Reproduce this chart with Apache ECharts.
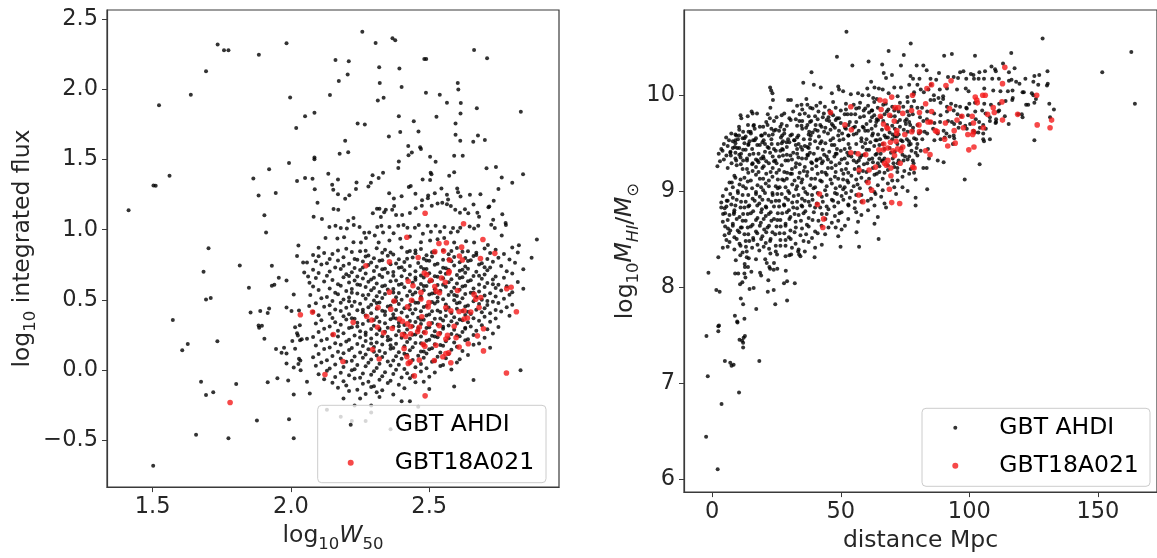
<!DOCTYPE html>
<html><head><meta charset="utf-8">
<script src="https://cdn.jsdelivr.net/npm/echarts@6/dist/echarts.min.js"></script>
<style>html,body{margin:0;padding:0;background:#fff}#c{width:1157px;height:558px}</style>
</head><body><div id="c"></div>
<script>
const seriesNames = ['GBT AHDI', 'GBT18A021'];
const leftXTicks = [1.5, 2.0, 2.5];
const leftYTicks = [-0.5, 0.0, 0.5, 1.0, 1.5, 2.0, 2.5];
const rightXTicks = [0, 50, 100, 150];
const rightYTicks = [6, 7, 8, 9, 10];

// Left panel: log10 W50 vs log10 integrated flux
const leftAhdi = [
[1.735,2.318],[1.758,2.276],[1.774,2.276],[1.884,2.245],[1.984,2.327],[1.693,2.128],[1.638,1.960],[1.523,1.885],[1.997,1.941],[2.051,1.808],[2.019,1.724],[1.993,1.474],[1.921,1.430],[1.561,1.383],[1.503,1.315],[1.511,1.313],[1.864,1.364],[2.022,1.346],[2.051,1.367],[1.883,1.243],[1.945,1.262],[1.413,1.138],[1.904,1.103],[1.910,0.981],[2.027,0.888],[1.702,0.869],
[1.815,0.746],[1.931,0.743],[1.684,0.701],[2.022,0.813],[2.044,0.767],[2.058,0.767],[2.048,0.696],[2.062,0.668],[1.956,0.659],[1.984,0.638],[1.931,0.601],[1.940,0.608],[1.848,0.587],[2.067,0.622],[1.693,0.503],[1.710,0.514],[2.010,0.540],[1.854,0.411],[1.889,0.421],[1.916,0.407],[1.921,0.439],[1.984,0.446],[2.002,0.421],[2.029,0.425],[2.066,0.458],[1.573,0.358],[1.883,0.318],[1.895,0.316],[1.885,0.302],[2.015,0.306],[2.032,0.320],[2.022,0.264],[2.025,0.248],[2.033,0.213],[2.039,0.220],[2.058,0.224],[2.005,0.208],[1.904,0.224],[1.734,0.206],[1.627,0.187],[1.607,0.143],[1.946,0.152],[1.966,0.124],[1.975,0.161],[1.984,0.119],[2.015,0.154],[2.029,0.082],[2.034,0.070],[1.984,0.049],[2.010,0.019],[2.027,0.045],[2.035,0.000],[1.675,-0.082],[1.802,-0.098],[1.719,-0.156],[1.693,-0.175],[1.916,-0.086],[1.951,-0.056],[1.990,-0.072],[2.058,-0.082],[2.010,-0.173],[2.068,-0.166],[1.877,-0.357],[1.993,-0.348],[1.657,-0.458],[1.774,-0.483],[2.010,-0.483],[1.502,-0.680],
[2.258,2.409],[2.306,2.329],[2.367,2.362],[2.377,2.348],[2.662,2.278],[2.709,2.220],[2.161,2.208],[2.209,2.199],[2.482,2.215],[2.489,2.215],[2.319,2.156],[2.392,2.147],[2.205,2.105],[2.173,2.058],[2.321,2.044],[2.400,2.016],[2.603,2.044],[2.605,1.998],[2.141,1.958],[2.488,1.974],[2.538,1.960],[2.314,1.920],[2.335,1.939],[2.564,1.904],[2.614,1.902],[2.672,1.864],[2.085,1.832],[2.390,1.808],[2.526,1.804],[2.613,1.827],[2.831,1.839],[2.241,1.755],[2.267,1.748],[2.444,1.771],[2.595,1.755],[2.196,1.633],[2.354,1.663],[2.395,1.696],[2.461,1.699],[2.595,1.675],[2.612,1.633],[2.659,1.626],[2.676,1.670],[2.701,1.638],[2.176,1.540],[2.207,1.551],[2.424,1.596],[2.467,1.586],[2.470,1.575],[2.425,1.530],[2.437,1.549],[2.503,1.519],[2.523,1.484],[2.590,1.526],[2.621,1.526],[2.085,1.514],[2.085,1.502],[2.390,1.486],[2.388,1.439],[2.707,1.437],[2.741,1.446],[2.135,1.399],[2.333,1.406],[2.505,1.406],[2.508,1.395],[2.572,1.383],[2.590,1.409],[2.762,1.371],[2.800,1.334],[2.078,1.362],[2.170,1.357],[2.317,1.367],[2.295,1.388],[2.237,1.336],[2.235,1.290],[2.280,1.308],[2.289,1.334],[2.086,1.287],[2.149,1.320],[2.153,1.285],[2.426,1.304],[2.433,1.311],[2.476,1.357],[2.503,1.353],[2.750,1.290],[2.601,1.294],[2.170,1.252],[2.196,1.220],[2.211,1.245],[2.096,1.192],[2.355,1.259],[2.372,1.222],[2.400,1.238],[2.450,1.255],[2.474,1.210],[2.495,1.224],[2.520,1.259],[2.544,1.294],[2.564,1.248],[2.568,1.215],[2.604,1.266],[2.613,1.236],[2.647,1.248],[2.685,1.252],[2.714,1.159],[2.733,1.206],[2.154,1.147],[2.171,1.142],[2.311,1.149],[2.320,1.149],[2.082,1.093],[2.112,1.077],[2.226,1.084],[2.207,1.063],[2.296,1.117],[2.325,1.091],[2.337,1.124],[2.343,1.142],[2.366,1.142],[2.373,1.168],[2.380,1.105],[2.402,1.105],[2.430,1.119],[2.451,1.152],[2.473,1.170],[2.496,1.243],[2.509,1.170],[2.530,1.187],[2.547,1.192],[2.564,1.182],[2.578,1.168],[2.594,1.142],[2.611,1.121],[2.629,1.145],[2.641,1.117],[2.660,1.180],[2.674,1.121],[2.680,1.093],[2.717,1.166],[2.731,1.070],[2.764,1.110],[2.776,1.047],
[2.139,1.019],[2.161,1.028],[2.180,1.012],[2.202,1.009],[2.227,1.033],[2.248,1.019],[2.265,0.979],[2.283,0.981],[2.312,1.019],[2.327,1.028],[2.333,0.981],[2.356,1.019],[2.371,0.974],[2.388,1.028],[2.407,1.033],[2.421,1.014],[2.448,1.014],[2.462,1.033],[2.477,0.972],[2.494,1.028],[2.506,0.986],[2.523,1.028],[2.539,0.986],[2.555,1.019],[2.578,0.981],[2.586,1.012],[2.603,0.988],[2.612,1.014],[2.646,1.023],[2.662,1.009],[2.677,1.028],[2.724,1.035],[2.737,1.012],[2.777,1.033],
[2.125,0.941],[2.168,0.937],[2.192,0.946],[2.226,0.911],[2.253,0.909],[2.271,0.941],[2.303,0.958],[2.317,0.909],[2.356,0.923],[2.395,0.935],[2.430,0.951],[2.470,0.911],[2.503,0.923],[2.530,0.932],[2.554,0.941],[2.590,0.909],[2.633,0.918],[2.662,0.909],[2.712,0.892],[2.762,0.958],[2.824,0.890],
[2.889,0.930],[2.839,1.395],[2.870,0.800],[2.840,0.580],
[2.10,0.872],[2.17,0.852],[2.20,0.864],[2.25,0.847],[2.31,0.869],[2.34,0.857],[2.40,0.874],[2.43,0.849],[2.47,0.862],[2.55,0.854],[2.60,0.870],[2.64,0.846],[2.70,0.866],[2.74,0.858],[2.80,0.873],
[2.08,0.821],[2.12,0.834],[2.15,0.828],[2.22,0.842],[2.28,0.817],[2.33,0.836],[2.37,0.824],[2.42,0.841],[2.45,0.832],[2.49,0.819],[2.52,0.839],[2.57,0.826],[2.62,0.843],[2.67,0.821],[2.72,0.835],[2.77,0.827],[2.82,0.838],
[2.10,0.812],[2.14,0.792],[2.19,0.804],[2.24,0.787],[2.27,0.809],[2.30,0.797],[2.35,0.814],[2.39,0.789],[2.44,0.802],[2.48,0.794],[2.51,0.810],[2.55,0.786],[2.59,0.806],[2.63,0.798],[2.66,0.813],[2.71,0.791],[2.75,0.801],[2.79,0.788],
[2.09,0.776],[2.13,0.762],[2.17,0.781],[2.21,0.758],[2.26,0.773],[2.29,0.766],[2.33,0.783],[2.38,0.759],[2.41,0.771],[2.46,0.764],[2.50,0.780],[2.53,0.757],[2.58,0.775],[2.61,0.768],[2.65,0.782],[2.69,0.761],[2.73,0.772],[2.81,0.765],
[2.11,0.752],[2.16,0.732],[2.19,0.744],[2.23,0.727],[2.28,0.749],[2.31,0.737],[2.36,0.754],[2.39,0.729],[2.43,0.742],[2.47,0.734],[2.52,0.750],[2.56,0.726],[2.59,0.746],[2.63,0.738],[2.68,0.753],[2.72,0.731],[2.76,0.741],
[2.08,0.716],[2.14,0.702],[2.18,0.721],[2.22,0.698],[2.25,0.713],[2.30,0.706],[2.34,0.723],[2.37,0.699],[2.41,0.711],[2.45,0.704],[2.49,0.720],[2.54,0.697],[2.57,0.715],[2.61,0.708],[2.64,0.722],[2.67,0.701],[2.71,0.712],[2.78,0.705],[2.84,0.718],
[2.10,0.692],[2.13,0.672],[2.20,0.684],[2.24,0.667],[2.27,0.689],[2.32,0.677],[2.35,0.694],[2.40,0.669],[2.43,0.682],[2.47,0.674],[2.50,0.690],[2.53,0.666],[2.56,0.686],[2.60,0.678],[2.63,0.693],[2.66,0.671],[2.70,0.681],[2.74,0.668],[2.80,0.688],
[2.09,0.656],[2.15,0.642],[2.19,0.661],[2.23,0.638],[2.26,0.653],[2.29,0.646],[2.33,0.663],[2.38,0.639],[2.42,0.651],[2.45,0.644],[2.48,0.660],[2.51,0.637],[2.55,0.655],[2.58,0.648],[2.62,0.662],[2.65,0.641],[2.69,0.652],[2.73,0.645],[2.77,0.658],
[2.12,0.632],[2.17,0.612],[2.21,0.624],[2.25,0.607],[2.28,0.629],[2.31,0.617],[2.36,0.634],[2.39,0.609],[2.44,0.622],[2.47,0.614],[2.50,0.630],[2.53,0.606],[2.57,0.626],[2.60,0.618],[2.64,0.633],[2.68,0.611],[2.71,0.621],[2.75,0.608],[2.82,0.628],
[2.08,0.596],[2.14,0.582],[2.18,0.601],[2.22,0.578],[2.27,0.593],[2.30,0.586],[2.34,0.603],[2.37,0.579],[2.41,0.591],[2.46,0.584],[2.49,0.600],[2.52,0.577],[2.56,0.595],[2.59,0.588],[2.63,0.602],[2.66,0.581],[2.70,0.592],[2.74,0.585],[2.78,0.598],
[2.10,0.572],[2.16,0.552],[2.20,0.564],[2.24,0.547],[2.29,0.569],[2.32,0.557],[2.35,0.574],[2.39,0.549],[2.43,0.562],[2.45,0.554],[2.48,0.570],[2.51,0.546],[2.54,0.566],[2.58,0.558],[2.61,0.573],[2.65,0.551],[2.68,0.561],[2.72,0.548],[2.76,0.568],[2.80,0.556],
[2.07,0.536],[2.13,0.522],[2.17,0.541],[2.21,0.518],[2.26,0.533],[2.31,0.526],[2.34,0.543],[2.38,0.519],[2.42,0.531],[2.47,0.524],[2.50,0.540],[2.53,0.517],[2.57,0.535],[2.60,0.528],[2.63,0.542],[2.67,0.521],[2.70,0.532],[2.74,0.525],[2.79,0.538],
[2.11,0.512],[2.15,0.492],[2.19,0.504],[2.23,0.487],[2.27,0.509],[2.30,0.497],[2.33,0.514],[2.37,0.489],[2.40,0.502],[2.44,0.494],[2.47,0.510],[2.51,0.486],[2.55,0.506],[2.59,0.498],[2.62,0.513],[2.66,0.491],[2.69,0.501],[2.73,0.488],[2.77,0.508],
[2.09,0.476],[2.14,0.462],[2.18,0.481],[2.22,0.458],[2.25,0.473],[2.29,0.466],[2.32,0.483],[2.36,0.459],[2.39,0.471],[2.43,0.464],[2.46,0.480],[2.49,0.457],[2.52,0.475],[2.56,0.468],[2.61,0.482],[2.64,0.461],[2.68,0.472],[2.71,0.465],[2.75,0.478],[2.80,0.466],
[2.12,0.452],[2.16,0.432],[2.20,0.444],[2.24,0.427],[2.28,0.449],[2.31,0.437],[2.35,0.454],[2.38,0.429],[2.41,0.442],[2.45,0.434],[2.48,0.450],[2.53,0.426],[2.57,0.446],[2.60,0.438],[2.63,0.453],[2.67,0.431],[2.70,0.441],[2.74,0.428],[2.78,0.448],
[2.08,0.416],[2.14,0.402],[2.18,0.421],[2.21,0.398],[2.26,0.413],[2.29,0.406],[2.33,0.423],[2.37,0.399],[2.40,0.411],[2.44,0.404],[2.47,0.420],[2.50,0.397],[2.54,0.415],[2.58,0.408],[2.62,0.422],[2.65,0.401],[2.69,0.412],[2.72,0.405],[2.76,0.418],
[2.10,0.392],[2.15,0.372],[2.19,0.384],[2.23,0.367],[2.27,0.389],[2.31,0.377],[2.34,0.394],[2.38,0.369],[2.42,0.382],[2.46,0.374],[2.49,0.390],[2.52,0.366],[2.56,0.386],[2.59,0.378],[2.63,0.393],[2.66,0.371],[2.70,0.381],[2.74,0.368],[2.79,0.388],
[2.11,0.356],[2.16,0.342],[2.20,0.361],[2.24,0.338],[2.28,0.353],[2.32,0.346],[2.36,0.363],[2.39,0.339],[2.43,0.351],[2.45,0.344],[2.48,0.360],[2.51,0.337],[2.55,0.355],[2.58,0.348],[2.61,0.362],[2.64,0.341],[2.68,0.352],[2.72,0.345],
[2.09,0.332],[2.14,0.312],[2.18,0.324],[2.22,0.307],[2.26,0.329],[2.30,0.317],[2.34,0.334],[2.37,0.309],[2.41,0.322],[2.44,0.314],[2.47,0.330],[2.50,0.306],[2.53,0.326],[2.57,0.318],[2.60,0.333],[2.65,0.311],[2.69,0.321],[2.75,0.308],
[2.12,0.296],[2.17,0.282],[2.21,0.301],[2.25,0.278],[2.29,0.293],[2.32,0.286],[2.35,0.303],[2.39,0.279],[2.42,0.291],[2.46,0.284],[2.49,0.300],[2.52,0.277],[2.55,0.295],[2.59,0.288],[2.63,0.302],[2.67,0.281],[2.71,0.292],
[2.10,0.272],[2.15,0.252],[2.19,0.264],[2.23,0.247],[2.27,0.269],[2.31,0.257],[2.34,0.274],[2.38,0.249],[2.41,0.262],[2.45,0.254],[2.48,0.270],[2.51,0.246],[2.54,0.266],[2.58,0.258],[2.62,0.273],[2.66,0.251],[2.73,0.261],
[2.08,0.236],[2.13,0.222],[2.17,0.241],[2.21,0.218],[2.25,0.233],[2.29,0.226],[2.33,0.243],[2.36,0.219],[2.40,0.231],[2.43,0.224],[2.47,0.240],[2.50,0.217],[2.53,0.235],[2.57,0.228],[2.61,0.242],[2.64,0.221],[2.70,0.232],
[2.11,0.212],[2.16,0.192],[2.20,0.204],[2.24,0.187],[2.27,0.209],[2.31,0.197],[2.35,0.214],[2.38,0.189],[2.42,0.202],[2.45,0.194],[2.49,0.210],[2.52,0.186],[2.56,0.206],[2.59,0.198],[2.63,0.213],[2.68,0.191],
[2.09,0.176],[2.14,0.162],[2.18,0.181],[2.22,0.158],[2.26,0.173],[2.30,0.166],[2.33,0.183],[2.37,0.159],[2.41,0.171],[2.44,0.164],[2.48,0.180],[2.51,0.157],[2.55,0.175],[2.60,0.168],[2.66,0.182],[2.72,0.161],
[2.12,0.152],[2.17,0.132],[2.21,0.144],[2.25,0.127],[2.28,0.149],[2.32,0.137],[2.36,0.154],[2.39,0.129],[2.43,0.142],[2.47,0.134],[2.50,0.150],[2.54,0.126],[2.58,0.146],[2.62,0.138],
[2.10,0.116],[2.15,0.102],[2.19,0.121],[2.23,0.098],[2.27,0.113],[2.31,0.106],[2.34,0.123],[2.38,0.099],[2.42,0.111],[2.46,0.104],[2.49,0.120],[2.53,0.097],[2.57,0.115],[2.64,0.108],
[2.08,0.092],[2.13,0.072],[2.18,0.084],[2.22,0.067],[2.26,0.089],[2.29,0.077],[2.33,0.094],[2.37,0.069],[2.40,0.082],[2.44,0.074],[2.48,0.090],[2.52,0.066],[2.56,0.086],[2.61,0.078],
[2.11,0.056],[2.16,0.042],[2.20,0.061],[2.24,0.038],[2.28,0.053],[2.32,0.046],[2.35,0.063],[2.39,0.039],[2.43,0.051],[2.47,0.044],[2.51,0.060],[2.55,0.037],[2.60,0.055],
[2.09,0.032],[2.14,0.012],[2.19,0.024],[2.23,0.007],[2.27,0.029],[2.31,0.017],[2.36,0.034],[2.41,0.009],[2.45,0.022],[2.49,0.014],[2.54,0.030],[2.58,0.006],
[2.13,-0.004],[2.18,-0.018],[2.22,0.001],[2.26,-0.022],[2.30,-0.007],[2.34,-0.014],[2.38,0.003],[2.42,-0.021],[2.47,-0.009],[2.52,-0.016],[2.83,0.000],
[2.10,-0.028],[2.16,-0.048],[2.21,-0.036],[2.25,-0.053],[2.29,-0.031],[2.33,-0.043],[2.37,-0.026],[2.40,-0.051],[2.44,-0.038],[2.50,-0.046],
[2.12,-0.064],[2.19,-0.078],[2.23,-0.059],[2.28,-0.082],[2.32,-0.067],[2.36,-0.074],[2.43,-0.057],[2.48,-0.081],[2.66,-0.069],
[2.15,-0.088],[2.20,-0.108],[2.26,-0.096],[2.30,-0.113],[2.35,-0.091],[2.39,-0.103],[2.45,-0.086],
[2.17,-0.124],[2.24,-0.138],[2.29,-0.119],[2.33,-0.142],[2.41,-0.127],[2.50,-0.134],[2.59,-0.116],
[2.21,-0.148],[2.27,-0.168],[2.31,-0.156],[2.37,-0.173],
[2.13,-0.28],[2.18,-0.33],[2.23,-0.25],[2.29,-0.25],[2.22,-0.36],[2.27,-0.36],[2.43,-0.22],[2.19,-0.20],[2.25,-0.20],[2.32,-0.19],[2.40,-0.22],[2.29,-0.30],[2.36,-0.42],[2.46,-0.26],
[2.27,0.851],[2.36,0.838],[2.45,0.853],[2.51,0.840],[2.58,0.849],[2.67,0.836],
[2.23,0.792],[2.32,0.779],[2.42,0.794],[2.49,0.781],[2.57,0.790],[2.64,0.777],
[2.26,0.731],[2.33,0.718],[2.40,0.733],[2.48,0.720],[2.55,0.729],[2.62,0.716],[2.70,0.733],
[2.21,0.671],[2.30,0.658],[2.37,0.673],[2.45,0.660],[2.52,0.669],[2.61,0.656],[2.68,0.672],
[2.24,0.611],[2.33,0.598],[2.40,0.613],[2.48,0.600],[2.55,0.609],[2.62,0.596],[2.73,0.612],
[2.22,0.551],[2.28,0.538],[2.37,0.553],[2.44,0.540],[2.52,0.549],[2.59,0.536],[2.66,0.552],
[2.21,0.491],[2.31,0.478],[2.38,0.493],[2.45,0.480],[2.53,0.489],[2.60,0.476],[2.71,0.492],
[2.26,0.431],[2.34,0.418],[2.43,0.433],[2.51,0.420],[2.56,0.429],[2.64,0.416],
[2.22,0.371],[2.30,0.358],[2.37,0.373],[2.47,0.360],[2.54,0.369],[2.62,0.356],
[2.24,0.311],[2.32,0.298],[2.39,0.313],[2.46,0.300],[2.55,0.309],[2.63,0.296],
[2.27,0.251],[2.35,0.238],[2.44,0.253],[2.52,0.240],[2.60,0.249],
[2.29,0.191],[2.36,0.178],[2.47,0.193],[2.54,0.180],
[2.30,0.131],[2.41,0.118],[2.48,0.133]
];
const leftGbt = [
[2.485,1.117],[2.624,1.042],[2.419,0.946],[2.535,0.902],[2.562,0.907],[2.617,0.876],[2.694,0.930],[2.034,0.395],[1.780,-0.229],
[2.271,0.743],[2.356,0.771],[2.460,0.802],[2.520,0.844],[2.552,0.848],[2.609,0.813],[2.620,0.785],[2.573,0.785],[2.685,0.795],[2.737,0.832],
[2.482,0.692],[2.491,0.680],[2.570,0.692],[2.572,0.703],[2.544,0.657],[2.505,0.640],[2.558,0.626],[2.424,0.633],[2.441,0.601],[2.470,0.554],
[2.520,0.596],[2.525,0.563],[2.356,0.556],[2.373,0.493],[2.436,0.498],[2.470,0.507],[2.499,0.481],[2.537,0.552],[2.602,0.568],[2.662,0.540],
[2.668,0.505],[2.686,0.517],[2.796,0.591],[2.780,0.580],[2.815,0.416],[2.078,0.414],
[2.315,0.446],[2.361,0.435],[2.421,0.451],[2.496,0.451],[2.560,0.446],[2.578,0.423],[2.608,0.418],[2.626,0.423],[2.650,0.414],[2.680,0.446],
[2.274,0.383],[2.292,0.358],[2.392,0.365],[2.403,0.348],[2.421,0.330],[2.433,0.311],[2.464,0.306],[2.473,0.381],[2.500,0.330],[2.536,0.318],
[2.590,0.313],[2.626,0.365],[2.638,0.372],[2.696,0.295],
[2.225,0.341],[2.313,0.306],[2.335,0.267],[2.366,0.297],[2.403,0.255],[2.415,0.241],[2.433,0.260],[2.458,0.276],[2.485,0.269],[2.535,0.260],
[2.566,0.248],[2.597,0.231],[2.674,0.245],
[2.153,0.255],[2.295,0.147],[2.319,0.080],[2.409,0.154],[2.478,0.185],[2.484,0.171],[2.524,0.178],[2.560,0.222],[2.608,0.166],[2.641,0.189],[2.696,0.138],
[2.419,0.096],[2.424,0.049],[2.431,0.061],[2.464,0.073],[2.518,0.070],[2.549,0.096],[2.560,0.119],[2.570,0.124],[2.578,0.054],
[2.188,0.063],[2.123,-0.030],[2.446,-0.040],[2.485,-0.182],[2.779,-0.019]
];

// Right panel: distance (Mpc) vs log10 M_HI / M_sun
const rightAhdi = [
[2.35,8.31],[-1.49,8.15],[9.15,8.28],[10.9,8.33],[11.8,8.36],[13.4,8.37],[13.4,8.31],[14.2,8.30],[17.0,8.29],[12.6,8.24],[12.7,8.21],[13.9,8.21],[20.6,8.29],[21.2,8.25],[22.6,8.35],[25.2,8.34],[22.2,8.21],[22.5,8.19],[23.9,8.18],[25.3,8.19],[24.0,8.25],[28.5,8.32],[30.0,8.33],[30.7,8.34],[33.4,8.37],[33.8,8.34],[34.3,8.32],[36.0,8.37],[39.8,8.31],[8.9,8.14],[10.1,8.14],[12.5,8.14],[15.2,8.16],[18.6,8.15],[19.0,8.12],[28.6,8.17],[12.9,8.10],[11.7,8.05],[10.8,8.03],[21.8,8.07],[21.6,7.95],[23.9,7.97],[24.5,7.82],[27.9,8.04],[29.1,8.06],[32.1,8.04],[29.1,7.86],[14.5,7.98],[16.1,7.99],[1.58,7.97],[2.87,7.95],[11.1,7.88],[12.0,7.82],[17.1,7.77],[8.8,7.70],[9.7,7.64],[9.8,7.63],[12.5,7.67],[2.35,7.59],[2.61,7.60],[2.35,7.54],[-2.26,7.49],[10.6,7.45],[11.6,7.44],[12.2,7.47],[12.7,7.49],[12.0,7.42],[12.0,7.37],[4.9,7.23],[7.0,7.21],[7.5,7.18],[8.3,7.19],[18.3,7.23],[-1.75,7.07],[10.4,6.90],[3.6,6.78],[-2.4,6.44],[2.1,6.10],
[9.0,9.14],[11.1,9.28],[9.7,9.45],[12.5,9.55],[10.4,9.67],[15.3,9.83],[13.9,9.69],[7.6,9.09],[5.6,8.90],[4.2,8.76],[3.5,8.83],[7.0,8.59],[8.4,8.76],[11.1,8.62],
[64.7,8.50],[57.1,8.42],[49.9,8.42],
[52.2,10.66],[77.2,10.54],[48.5,10.40],[68.6,10.46],[74.5,10.42],[60.8,10.35],[54.5,10.31],[73.4,10.31],[66.1,10.32],[38.6,10.24],[66.7,10.23],[69.9,10.21],[67.6,10.18],[77.1,10.20],[78.1,10.17],[35.4,10.13],[39.5,10.11],[42.2,10.08],[49.0,10.09],[49.3,10.06],[61.8,10.14],[60.3,10.07],[63.1,10.08],[64.8,10.07],[66.3,10.06],[70.8,10.08],[73.4,10.08],[76.6,10.11],[22.5,10.08],[22.9,10.05],[23.4,10.02],[23.6,9.95],
[46.5,10.02],[50.9,10.04],[53.9,10.01],[56.7,10.02],[58.4,10.00],[60.8,10.00],[62.6,9.97],[64.0,9.96],[68.6,10.02],[72.1,9.99],[75.9,9.98],[78.3,10.01],
[29.5,9.95],[30.6,9.95],[36.6,9.96],[34.7,9.90],[37.0,9.90],[38.1,9.87],[33.0,9.89],[28.0,9.81],[30.0,9.76],
[22.6,9.87],[21.6,9.80],[22.4,9.76],[11.0,9.79],[13.8,9.78],[15.7,9.81],[17.4,9.81],[11.3,9.76],
[14.1,9.62],[14.9,9.62],[16.2,9.69],[19.8,9.67],[19.3,9.58],[10.4,9.58],[9.3,9.58],[7.1,9.41],
[43.8,9.88],[43.4,9.81],[46.2,9.81],[49.3,9.76],[52.6,9.80],[55.6,9.80],[57.1,9.87],[58.9,9.84],
[41.3,9.83],[43.0,9.77],[41.0,9.75],[38.5,9.73],[40.2,9.69],[33.9,9.73],[34.7,9.68],[36.5,9.66],[37.7,9.62],[38.3,9.58],
[60.6,9.89],[62.2,9.84],[64.4,9.87],[66.5,9.90],[67.9,9.83],[70.8,9.84],[74.3,9.88],[75.9,9.83],[77.5,9.88],[78.0,9.80],
[62.1,9.77],[63.8,9.72],[65.7,9.77],[75.6,9.75],[75.3,9.70],[76.6,9.72],[78.1,9.66],
[24.7,9.64],[26.7,9.56],[28.9,9.51],[27.2,9.58],[30.4,9.58],[31.8,9.53],[33.6,9.49],[35.6,9.54],[34.5,9.46],[37.0,9.46],
[45.2,9.77],[46.5,9.70],[47.7,9.66],[49.3,9.63],[51.6,9.66],[52.9,9.58],[54.8,9.66],[56.1,9.60],[58.0,9.55],[58.9,9.66],
[60.6,9.63],[62.2,9.58],[63.5,9.53],[65.3,9.54],[66.3,9.49],[68.3,9.56],[70.2,9.59],[71.8,9.57],[73.4,9.53],[75.7,9.54],[77.2,9.49],[78.5,9.55],
[5.4,9.56],[7.4,9.60],[9.0,9.53],[11.8,9.55],[14.1,9.49],[15.9,9.53],[17.5,9.48],[19.5,9.51],[21.5,9.46],[23.1,9.49],[24.7,9.42],[27.2,9.44],
[8.8,9.46],[7.2,9.37],[9.3,9.32],[11.2,9.39],[13.5,9.34],[15.7,9.29],[17.6,9.32],[19.8,9.36],[22.0,9.29],[24.0,9.31],[26.0,9.36],[28.5,9.32],[30.4,9.37],[32.6,9.29],[34.9,9.34],[37.2,9.37],[38.8,9.29],[40.7,9.33],[42.6,9.29],[44.5,9.36],[46.2,9.30],[48.4,9.39],[50.3,9.33],[52.5,9.29],[54.1,9.36],[56.1,9.30],[58.0,9.37],[60.3,9.29],[62.2,9.34],[64.4,9.29],[66.3,9.32],[68.3,9.27],[70.2,9.34],[72.1,9.29],[74.4,9.32],[76.6,9.36],[78.3,9.29],
[40.5,9.89],[48.0,9.87],[55.0,9.90],[59.5,9.86],[70.0,9.88],
[31.5,9.83],[36.0,9.81],[50.0,9.84],[54.0,9.80],[61.0,9.82],[72.5,9.83],
[25.0,9.77],[32.5,9.75],[37.5,9.78],[44.5,9.74],[48.5,9.76],[57.5,9.77],[64.0,9.75],[69.5,9.78],[73.0,9.74],
[21.0,9.72],[27.0,9.70],[35.0,9.73],[42.0,9.69],[50.0,9.71],[53.5,9.72],[60.0,9.70],[66.5,9.73],[77.0,9.69],
[18.5,9.67],[23.0,9.65],[29.0,9.68],[40.0,9.64],[44.0,9.66],[55.5,9.67],[62.0,9.65],[70.0,9.68],[74.5,9.64],
[12.0,9.62],[20.5,9.60],[26.0,9.63],[31.0,9.59],[39.0,9.61],[43.5,9.62],[50.5,9.60],[57.0,9.63],[64.5,9.59],[69.0,9.61],[76.0,9.62],
[13.0,9.57],[17.0,9.55],[22.0,9.58],[29.5,9.54],[33.0,9.56],[41.5,9.57],[47.0,9.55],[53.0,9.58],[60.0,9.54],[67.5,9.56],[71.0,9.57],
[8.0,9.52],[12.5,9.50],[16.5,9.53],[25.5,9.49],[30.0,9.51],[40.0,9.52],[44.0,9.50],[49.5,9.53],[56.0,9.49],[61.5,9.51],[74.0,9.52],
[6.0,9.47],[10.5,9.45],[18.5,9.48],[24.0,9.44],[29.0,9.46],[36.0,9.47],[41.0,9.45],[46.5,9.48],[51.5,9.44],[58.5,9.46],[63.0,9.47],[69.0,9.45],[76.5,9.48],
[4.0,9.42],[9.0,9.40],[13.0,9.43],[16.0,9.39],[20.5,9.41],[26.5,9.42],[31.5,9.40],[35.0,9.43],[39.5,9.39],[45.5,9.41],[50.0,9.42],[55.5,9.40],[61.0,9.43],[65.5,9.39],[71.0,9.41],[77.5,9.42],
[5.5,9.37],[11.0,9.35],[14.5,9.38],[19.0,9.34],[23.5,9.36],[27.5,9.37],[33.5,9.35],[37.0,9.38],[42.0,9.34],[47.5,9.36],[53.0,9.37],[57.5,9.35],[63.5,9.38],[67.0,9.34],[75.0,9.36],
[3.0,9.31],[7.5,9.29],[12.0,9.32],[15.5,9.28],[18.0,9.30],[21.0,9.31],[25.0,9.29],[29.5,9.32],[34.0,9.28],[38.5,9.30],[43.0,9.31],[49.5,9.29],[55.0,9.32],[59.0,9.28],[62.5,9.30],[66.0,9.31],[70.5,9.29],[78.0,9.32],
[2.0,9.26],[6.0,9.24],[9.5,9.27],[13.5,9.23],[17.0,9.25],[20.0,9.26],[23.5,9.24],[27.0,9.27],[31.0,9.23],[36.0,9.25],[40.5,9.26],[45.0,9.24],[48.0,9.27],[52.0,9.23],[57.0,9.25],[65.0,9.26],[72.0,9.24],
[11.8,9.23],[15.7,9.21],[19.5,9.24],[22.7,9.20],[26.0,9.22],[29.1,9.19],[32.4,9.25],[35.6,9.21],[38.8,9.23],[42.6,9.20],[46.5,9.24],[50.3,9.22],[52.9,9.19],[55.4,9.23],[58.6,9.21],[62.5,9.24],[65.0,9.20],[68.3,9.22],[70.8,9.25],[74.7,9.21],[77.2,9.23],
[8.6,9.16],[12.5,9.14],[17.0,9.17],[19.8,9.13],[23.4,9.15],[27.2,9.12],[30.4,9.18],[33.6,9.14],[36.8,9.16],[40.0,9.13],[44.5,9.17],[47.7,9.15],[50.9,9.12],[54.1,9.16],[58.0,9.14],[63.1,9.17],[66.3,9.13],[74.0,9.15],[76.6,9.18],
[6.7,9.09],[10.6,9.07],[13.8,9.10],[17.6,9.06],[20.8,9.08],[24.7,9.05],[27.9,9.11],[31.1,9.07],[34.7,9.09],[38.1,9.06],[42.6,9.10],[46.5,9.08],[49.7,9.05],[52.9,9.09],[56.5,9.07],[59.9,9.10],[64.4,9.06],[68.3,9.08],[72.1,9.11],
[5.4,9.02],[9.9,9.00],[13.1,9.03],[17.0,8.99],[19.8,9.01],[23.4,8.98],[26.2,9.04],[29.5,9.00],[32.6,9.02],[36.2,8.99],[39.4,9.03],[43.9,9.01],[47.7,8.98],[50.9,9.02],[54.1,9.00],[57.4,9.03],[63.1,8.99],[66.3,9.01],[70.8,9.04],[76.0,9.00],
[4.1,8.95],[8.0,8.93],[11.8,8.96],[15.7,8.92],[18.5,8.94],[21.8,8.91],[25.3,8.97],[28.5,8.93],[31.7,8.95],[34.9,8.92],[38.8,8.96],[42.6,8.94],[46.5,8.91],[50.3,8.95],[53.5,8.93],[58.0,8.96],[61.8,8.92],[65.7,8.94],[71.5,8.97],
[3.5,8.88],[7.4,8.86],[11.2,8.89],[14.4,8.85],[18.3,8.87],[20.8,8.84],[24.7,8.90],[27.9,8.86],[31.1,8.88],[34.7,8.85],[37.5,8.89],[40.7,8.87],[44.5,8.84],[49.0,8.88],[52.9,8.86],[58.0,8.89],[63.1,8.85],[67.0,8.87],
[4.8,8.82],[8.6,8.80],[12.5,8.83],[15.9,8.79],[19.3,8.81],[22.7,8.78],[26.0,8.84],[29.8,8.80],[33.0,8.82],[36.2,8.79],[40.0,8.83],[45.2,8.81],[50.3,8.78],[55.4,8.82],[60.6,8.80],[67.6,8.83],
[6.7,8.75],[10.6,8.73],[13.8,8.76],[17.6,8.72],[20.8,8.74],[24.0,8.71],[27.2,8.77],[30.4,8.73],[33.6,8.75],[37.5,8.72],[42.6,8.76],[47.7,8.74],[52.9,8.71],[58.0,8.75],[64.4,8.73],
[4.1,8.68],[8.0,8.66],[11.8,8.69],[15.7,8.65],[18.9,8.67],[22.1,8.64],[25.3,8.70],[28.5,8.66],[32.4,8.68],[36.8,8.65],[41.3,8.69],[46.5,8.67],[51.6,8.64],[56.7,8.68],[63.1,8.66],
[6.1,8.61],[9.9,8.59],[13.8,8.62],[17.0,8.58],[20.2,8.60],[23.4,8.57],[26.6,8.63],[30.4,8.59],[34.9,8.61],[40.0,8.58],[45.2,8.62],[50.3,8.60],[56.1,8.57],
[4.8,8.54],[8.6,8.52],[12.5,8.55],[15.9,8.51],[19.5,8.53],[22.7,8.50],[26.2,8.56],[29.8,8.52],[34.3,8.54],[38.8,8.51],[43.9,8.55],[49.0,8.53],
[6.7,8.47],[10.6,8.45],[14.4,8.48],[17.6,8.44],[20.8,8.46],[24.7,8.43],[28.5,8.49],[32.4,8.45],[37.5,8.47],[42.6,8.44],
[4.1,8.41],[8.6,8.39],[13.1,8.42],[18.3,8.38],[22.1,8.40],[24.7,8.37],[28.5,8.43],[33.6,8.39],[40.0,8.41],
[14,9.19],[18,9.20],[21,9.18],[25,9.19],[28,9.20],[31,9.18],[34,9.19],[37,9.20],[41,9.18],[44,9.19],[48,9.20],[51,9.18],[57,9.19],[60,9.20],[64,9.18],[67,9.19],[72,9.20],
[11,9.12],[15,9.11],[18.5,9.13],[22,9.11],[25.5,9.12],[29,9.13],[32,9.11],[35,9.12],[38.5,9.13],[42,9.11],[46,9.12],[49,9.13],[52.5,9.11],[56,9.12],[61,9.13],[70,9.11],
[8,9.04],[12,9.05],[15.5,9.03],[19,9.04],[22,9.05],[25.5,9.03],[28.5,9.04],[33,9.05],[35.5,9.03],[40,9.04],[44.5,9.05],[48,9.03],[51.5,9.04],[55,9.05],[61.5,9.03],[74,9.04],
[7,8.97],[10,8.98],[14,8.96],[17,8.97],[20.5,8.98],[23.5,8.96],[27,8.97],[30,8.98],[33.5,8.96],[37,8.97],[41,8.98],[44.5,8.96],[48.5,8.97],[52,8.98],[56,8.96],[63.5,8.97],
[6,8.90],[9.5,8.91],[13,8.89],[16.5,8.90],[19.5,8.91],[23,8.89],[26,8.90],[29.5,8.91],[33,8.89],[36,8.90],[39,8.91],[43,8.89],[47,8.90],[51,8.91],[55.5,8.89],[60.5,8.90],
[5.5,8.84],[9,8.85],[11,8.83],[14,8.84],[17.5,8.85],[21,8.83],[24,8.84],[28,8.85],[31.5,8.83],[35,8.84],[38,8.85],[42,8.83],[47.5,8.84],[53,8.85],
[5,8.77],[8.5,8.78],[12,8.76],[15,8.77],[19,8.78],[22,8.76],[25.5,8.77],[29,8.78],[32,8.76],[35.5,8.77],[39.5,8.78],[44.5,8.76],[49.5,8.77],[56,8.78],
[6,8.70],[9.5,8.71],[13,8.69],[17,8.70],[20,8.71],[23,8.69],[26.5,8.70],[30,8.71],[34.5,8.69],[39,8.70],[44,8.71],[49,8.69],
[5,8.63],[8,8.64],[11.5,8.62],[15,8.63],[18.5,8.64],[21.5,8.62],[25,8.63],[28.5,8.64],[32.5,8.62],[37.5,8.63],[42.5,8.64],[48,8.62],
[6.5,8.56],[10.5,8.57],[14,8.55],[17.5,8.56],[21,8.57],[24.5,8.55],[28,8.56],[32,8.57],[36.5,8.55],[41,8.56],
[5.5,8.49],[9.5,8.50],[13,8.48],[16,8.49],[19,8.50],[22.5,8.48],[26.5,8.49],[30.5,8.50],[35.5,8.48],
[6,8.42],[11,8.43],[15.5,8.41],[20,8.42],[26.5,8.43],[31,8.41],
[42,9.92],[47,9.93],[52,9.91],[57.5,9.92],[63,9.93],[67.5,9.91],[73,9.92],[76,9.93],
[35,9.85],[39,9.86],[45.5,9.84],[52,9.85],[56,9.86],[62,9.84],[68.5,9.85],[71.5,9.86],
[27,9.79],[34,9.80],[40,9.78],[47,9.79],[51.5,9.80],[59,9.78],[63,9.79],[67,9.80],[71,9.78],[76.5,9.79],
[24,9.73],[30.5,9.74],[38,9.72],[45.5,9.73],[48,9.74],[56,9.72],[61.5,9.73],[64.5,9.74],[72,9.72],[75,9.73],
[16,9.68],[21.5,9.69],[26.5,9.67],[33,9.68],[37,9.69],[42.5,9.67],[47,9.68],[53,9.69],[58.5,9.67],[63.5,9.68],[68,9.69],[73,9.67],
[10.5,9.64],[16.5,9.65],[24,9.63],[28,9.64],[35,9.65],[41,9.63],[46,9.64],[52,9.65],[59.5,9.63],[66,9.64],[71,9.65],[78,9.63],
[9,9.59],[15,9.60],[19,9.58],[23.5,9.59],[28,9.60],[33.5,9.58],[37.5,9.59],[45,9.60],[49,9.58],[55,9.59],[62.5,9.60],[67,9.58],[72.5,9.59],
[6.5,9.53],[10,9.54],[14.5,9.52],[20,9.53],[23,9.54],[27.5,9.52],[32,9.53],[38,9.54],[42.5,9.52],[46,9.53],[51,9.54],[58,9.52],[64,9.53],[70,9.54],[76.5,9.52],
[4.5,9.49],[9,9.50],[14,9.48],[20.5,9.49],[27,9.50],[32.5,9.48],[38,9.49],[42,9.50],[47.5,9.48],[53,9.49],[59.5,9.50],[65,9.48],[72,9.49],
[3.5,9.44],[8,9.45],[12,9.43],[15.5,9.44],[22,9.45],[27.5,9.43],[33,9.44],[37.5,9.45],[43,9.43],[48.5,9.44],[53.5,9.45],[60,9.43],[67,9.44],[73.5,9.45],
[2.5,9.39],[7,9.40],[10.5,9.38],[18,9.39],[22.5,9.40],[29,9.38],[33,9.39],[38,9.40],[43.5,9.38],[48,9.39],[52.5,9.40],[59,9.38],[64,9.39],[69.5,9.40],[74,9.38],
[4.5,9.33],[9,9.34],[13.5,9.32],[17,9.33],[20,9.34],[24.5,9.32],[31,9.33],[36.5,9.34],[40.5,9.32],[45,9.33],[51.5,9.34],[57,9.32],[61,9.33],[65,9.34],[72.5,9.32],[76,9.33],
[128.5,10.59],[163.0,10.45],[151.7,10.24],[164.4,9.91],[90.2,10.41],[93.2,10.43],[102.2,10.41],[116.3,10.44],[79.5,10.31],[82.1,10.31],[83.4,10.26],[88.2,10.23],[96.4,10.24],[97.7,10.25],[100.6,10.22],[103.9,10.24],[106.1,10.25],[108.6,10.30],[110.0,10.27],[110.3,10.25],[113.1,10.33],[115.4,10.24],[117.6,10.28],[130.4,10.25],[125.3,10.20],[127.2,10.21],[121.8,10.17],[124.9,10.14],
[80.6,10.17],[84.9,10.17],[87.1,10.16],[91.7,10.19],[93.9,10.19],[95.6,10.18],[98.8,10.17],[101.6,10.21],[101.8,10.17],[103.6,10.17],[105.7,10.17],[108.9,10.17],[111.5,10.17],[115.4,10.15],[116.4,10.16],[118.2,10.14],[119.5,10.12],[130.5,10.12],[130.2,10.10],[126.8,10.11],
[79.8,10.11],[81.1,10.06],[82.3,10.03],[85.0,10.11],[84.1,10.06],[86.2,10.00],[88.0,9.97],[89.8,9.96],[88.5,10.06],[91.3,10.07],[95.2,10.06],[98.6,10.07],[99.7,10.04],[105.8,10.07],[109.3,10.05],[112.1,10.04],[115.0,10.04],[116.8,10.05],[120.7,10.03],[121.2,10.03],[116.9,9.97],[116.7,9.95],[124.3,10.02],[125.9,9.96],[125.3,9.92],[124.9,10.00],[131.1,9.91],[132.9,9.85],[131.4,9.77],[78.5,10.03],[78.5,9.94],[79.8,9.87],
[84.9,9.95],[86.3,9.95],[89.8,9.99],[88.8,9.92],[91.3,9.88],[92.9,9.91],[94.7,9.89],[96.4,9.88],[98.8,9.87],[100.0,9.91],[102.2,9.92],[105.8,9.91],[108.4,9.90],[111.6,9.91],[114.1,9.94],[111.6,9.84],[113.8,9.78],[115.3,9.70],[122.1,9.90],[122.9,9.90],[120.4,9.80],[120.7,9.77],[119.0,9.80],
[81.6,9.87],[83.6,9.83],[86.3,9.81],[88.8,9.79],[91.3,9.83],[93.9,9.84],[95.4,9.80],[96.8,9.78],[99.0,9.86],[99.5,9.79],[102.3,9.83],[105.0,9.84],[106.3,9.81],[108.0,9.77],[110.4,9.72],[111.2,9.83],[125.3,9.53],
[80.8,9.77],[82.1,9.73],[83.5,9.75],[84.9,9.72],[86.4,9.71],[88.6,9.72],[91.7,9.73],[93.2,9.72],[94.1,9.70],[96.4,9.71],[98.4,9.68],[100.3,9.70],[102.5,9.75],[103.8,9.72],[105.4,9.69],[108.0,9.73],[110.2,9.71],[110.4,9.75],[106.4,9.65],[105.4,9.60],[103.5,9.61],[101.6,9.63],
[79.8,9.69],[81.1,9.62],[80.4,9.60],[82.6,9.62],[83.6,9.60],[85.9,9.65],[87.7,9.60],[90.0,9.63],[91.1,9.60],[92.3,9.57],[93.9,9.58],[95.8,9.66],[99.0,9.65],
[79.3,9.54],[79.8,9.49],[81.7,9.54],[79.5,9.45],[81.1,9.42],[83.9,9.44],[86.4,9.53],[88.8,9.54],[90.4,9.56],[93.6,9.49],[94.1,9.55],[102.2,9.61],[104.1,9.66],[105.4,9.54],[108.0,9.54],[105.7,9.52],
[79.1,9.40],[79.8,9.37],[84.3,9.34],[87.7,9.32],[90.0,9.30],[83.4,9.24],[82.1,9.24],[78.5,9.19],[79.1,9.12],[83.6,9.02],[104.0,9.28],[98.2,9.12],[79.1,8.93],[79.1,8.85]
];
const rightGbt = [
[113.8,10.29],[112.9,10.12],[92.9,10.15],[90.9,10.10],[85.3,10.11],[83.5,10.07],[102.3,9.98],[102.9,9.95],[103.1,9.92],[105.2,10.00],[106.2,10.00],[126.2,10.00],[112.7,9.93],[109.3,9.87],[109.7,9.82],[107.1,9.80],[112.9,9.74],[118.8,9.80],[92.3,9.86],[83.0,9.91],[85.3,9.83],[80.6,9.82],[101.1,9.78],[97.1,9.78],[95.2,9.74],[90.7,9.71],[101.6,9.71],[80.4,9.69],[83.9,9.72],[84.9,9.72],[97.7,9.66],[94.1,9.63],[105.4,9.66],[101.6,9.62],[80.6,9.62],[86.8,9.63],[87.5,9.62],[99.4,9.59],[101.3,9.59],[90.4,9.54],[94.5,9.50],[91.6,9.47],[99.8,9.43],[101.8,9.46],[83.0,9.42],[84.7,9.38],[78.5,9.24],[126.4,9.69],[131.4,9.66],[132.0,9.74],
[46.0,9.82],[53.9,9.88],[51.6,9.69],[54.1,9.64],[65.2,9.95],[67.2,9.94],[69.8,9.98],[71.1,9.87],[72.4,9.87],[74.1,9.81],[77.5,9.84],[77.9,10.00],[65.7,9.85],[65.4,9.78],[69.0,9.79],[70.8,9.73],[66.6,9.70],[67.9,9.66],[71.8,9.63],[71.7,9.60],[74.9,9.59],[68.3,9.65],[66.7,9.49],[69.3,9.51],[71.5,9.52],[77.6,9.62],[64.8,9.43],[66.6,9.43],[68.3,9.45],[70.3,9.42],[72.1,9.44],[73.4,9.42],[74.1,9.46],[70.9,9.37],[68.3,9.32],[67.0,9.29],[67.7,9.27],[69.5,9.24],[73.1,9.29],[78.0,9.25],[53.9,9.40],[56.7,9.39],[59.7,9.38],[63.5,9.25],[61.0,9.22],[57.1,9.22],[60.6,9.09],[62.0,9.01],[69.5,9.16],[68.9,9.02],[57.0,8.96],[58.6,8.89],[69.8,8.88],[72.9,8.87],[41.7,8.97],[40.9,8.86],[43.3,8.71],[43.0,8.62]
];

const FONT = 'DejaVu Sans';
const TXT = '#262626';
const FRAME = '#3a3a3a';
const fmt1 = v => (v < 0 ? '\u2212' : '') + Math.abs(v).toFixed(1);
const fmt0 = v => (v < 0 ? '\u2212' : '') + Math.abs(v).toFixed(0);
const nameRich = {
  l: {fontFamily: FONT, fontSize: 23.5, color: TXT, lineHeight: 24, verticalAlign: 'top'},
  i: {fontFamily: FONT, fontSize: 23.5, color: TXT, lineHeight: 24, verticalAlign: 'top', fontStyle: 'italic'},
  s: {fontFamily: FONT, fontSize: 16.5, color: TXT, lineHeight: 16, verticalAlign: 'top', padding: [12, 0, 0, 0]},
  si: {fontFamily: FONT, fontSize: 16.5, color: TXT, lineHeight: 16, verticalAlign: 'top', padding: [12, 0, 0, 0], fontStyle: 'italic'}
};

function mkAxis(gridIndex, min, max, ticks, fmt, name, gap) {
  return {
    gridIndex, type: 'value', min, max,
    axisLine: {show: true, onZero: false, lineStyle: {color: FRAME, width: 1.2}},
    splitLine: {show: false},
    axisTick: {show: true, inside: false, length: 5, customValues: ticks, lineStyle: {color: FRAME, width: 1}},
    axisLabel: {customValues: ticks, formatter: fmt, fontFamily: FONT, fontSize: 22.5, color: TXT, margin: 9},
    name, nameLocation: 'middle', nameGap: gap,
    nameTextStyle: {fontFamily: FONT, fontSize: 23.5, color: TXT, rich: nameRich}
  };
}

function mkLegend(name, left, top, size, pad) {
  return {
    data: [name], left, top, padding: 0, itemGap: 0, icon: 'circle',
    itemWidth: size, itemHeight: size, selectedMode: false, z: 20,
    textStyle: {fontFamily: FONT, fontSize: 23.5, color: '#000', lineHeight: 24, padding: [0, 0, 0, pad]}
  };
}

const option = {
  animation: false,
  backgroundColor: '#fff',
  grid: [
    {left: 107, top: 10, width: 452, height: 484, show: true, borderColor: FRAME, borderWidth: 1.2, backgroundColor: '#fff'},
    {left: 684, top: 10, width: 478.4, height: 488, show: true, borderColor: FRAME, borderWidth: 1.2, backgroundColor: '#fff'}
  ],
  xAxis: [
    mkAxis(0, 1.335, 2.969, leftXTicks, fmt1, '{l|log}{s|10}{i|W}{s|50}', 35),
    mkAxis(1, -11, 173, rightXTicks, fmt0, '{l|distance Mpc}', 35)
  ],
  yAxis: [
    mkAxis(0, -0.831, 2.563, leftYTicks, fmt1, '{l|log}{s|10}{l| integrated flux}', 66),
    mkAxis(1, 5.862, 10.888, rightYTicks, fmt0, '{l|log}{s|10}{i|M}{si|HI}{l|/}{i|M}{s|\u2299}', 40)
  ],
  legend: [
    mkLegend(seriesNames[0], 348.7, 412.7, 4, 37),
    mkLegend(seriesNames[1], 347.7, 450.7, 6, 36),
    mkLegend(seriesNames[0], 953.3, 415.7, 4, 37),
    mkLegend(seriesNames[1], 952.3, 453.7, 6, 36)
  ],
  graphic: [
    {type: 'rect', z: 10, shape: {x: 317.7, y: 405.3, width: 228.3, height: 77.4, r: 4}, style: {fill: 'rgba(255,255,255,0.8)', stroke: '#cccccc', lineWidth: 1}},
    {type: 'rect', z: 10, shape: {x: 922, y: 408.3, width: 228, height: 78, r: 4}, style: {fill: 'rgba(255,255,255,0.8)', stroke: '#cccccc', lineWidth: 1}}
  ],
  series: [
    {type: 'scatter', name: seriesNames[0], xAxisIndex: 0, yAxisIndex: 0, data: leftAhdi, symbolSize: 4, itemStyle: {color: '#000'}, silent: true},
    {type: 'scatter', name: seriesNames[1], xAxisIndex: 0, yAxisIndex: 0, data: leftGbt, symbolSize: 5.6, itemStyle: {color: '#f41a1a'}, silent: true},
    {type: 'scatter', name: seriesNames[0], xAxisIndex: 1, yAxisIndex: 1, data: rightAhdi, symbolSize: 4, itemStyle: {color: '#000'}, silent: true},
    {type: 'scatter', name: seriesNames[1], xAxisIndex: 1, yAxisIndex: 1, data: rightGbt, symbolSize: 5.6, itemStyle: {color: '#f41a1a'}, silent: true}
  ]
};
const chart = echarts.init(document.getElementById('c'), null, {renderer: 'canvas'});
chart.setOption(option);
</script>
</body></html>
